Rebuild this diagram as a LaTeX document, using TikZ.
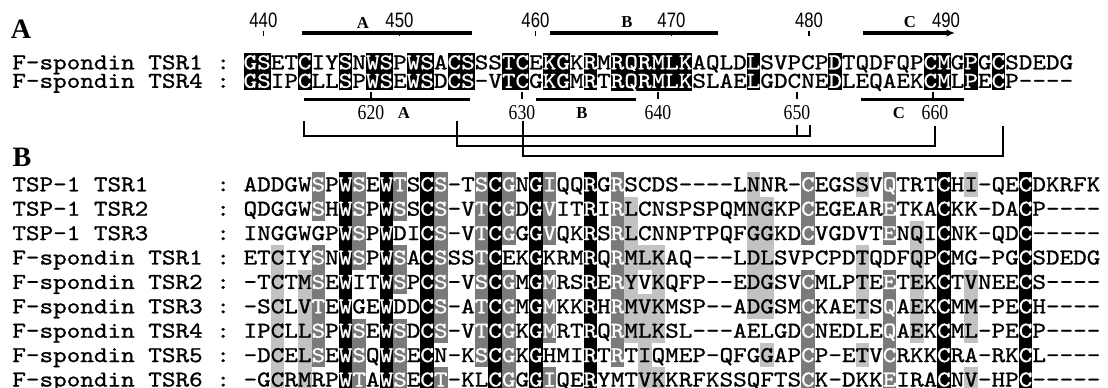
\documentclass[tikz,border=0pt]{standalone}
\usepackage{fontspec}
\setmainfont{Liberation Serif}
\setsansfont{Liberation Sans}
\newfontfamily\seqfont{lmmono10-regular.otf}[FakeStretch=1.143,FakeBold=1.0]
\usepackage{xcolor}
\usepackage{tikz}
\usetikzlibrary{arrows.meta}

\setlength{\fboxsep}{0pt}
\definecolor{darkcell}{gray}{0.48}
\definecolor{lightcell}{gray}{0.76}
\newcommand{\cellstrut}{}
\newcommand{\shK}[1]{\colorbox{black}{\cellstrut\textcolor{white}{#1}}}
\newcommand{\shD}[1]{\colorbox{darkcell}{\cellstrut\textcolor{white}{#1}}}
\newcommand{\shL}[1]{\colorbox{lightcell}{\cellstrut#1}}

\begin{document}
\begin{tikzpicture}[
    x=0.02cm,
    y=-0.02cm,
    >={Latex[length=0.17cm,width=0.15cm]},
    seqline/.style={
        anchor=base west,
        inner sep=0pt,
        font=\seqfont\fontsize{12.9}{14}\selectfont\frenchspacing
    },
    rowA/.style={
        seqline,
        execute at begin node={\def\cellstrut{\rule[-0.049cm]{0pt}{0.378cm}}}
    },
    rowB/.style={
        seqline,
        execute at begin node={\def\cellstrut{\rule[-0.108cm]{0pt}{0.492cm}}}
    },
    panel/.style={
        inner sep=0pt,
        font=\bfseries\fontsize{16}{16}\selectfont
    },
    posnum/.style={
        inner sep=0pt,
        font=\sffamily\fontsize{11.9}{12}\selectfont
    },
    lownum/.style={
        inner sep=0pt,
        font=\fontsize{12}{12}\selectfont
    },
    strand/.style={
        inner sep=0pt,
        font=\bfseries\fontsize{9.5}{10}\selectfont
    },
    bar/.style={line width=0.065cm},
    tickmark/.style={line width=0.6pt},
    ssbond/.style={line width=0.7pt}
]
\useasboundingbox (0,0) rectangle (1108,388);

% Panel A: pairwise alignment
\node[panel] (labA) at (21,29) {A};

\node[seqline] (nameA1) at (12,69.3) {F-spondin~TSR1};
\node[seqline] (colA1) at (216,69.3) {:};
\node[rowA] (fs1) at (243.2,69.3) {\shK{GS}ET\shK{C}IY\shK{S}N\shK{WS}P\shK{WS}A\shK{CS}SS\shK{TC}E\shK{KG}K\shK{R}M\shK{RQRMLK}AQLD\shK{L}SVPCP\shK{D}TQDFQP\shK{CM}G\shK{P}G\shK{C}SDEDG};
\node[seqline] (nameA4) at (12,87.8) {F-spondin~TSR4};
\node[seqline] (colA4) at (216,87.8) {:};
\node[rowA] (fs4) at (243.2,87.8) {\shK{GS}IP\shK{C}LL\shK{S}P\shK{WS}E\shK{WS}D\shK{CS}-V\shK{TC}G\shK{KG}M\shK{R}T\shK{RQRMLK}SLAE\shK{L}GDCNE\shK{D}LEQAEK\shK{CM}L\shK{P}E\shK{C}P----};

% Upper numbering and strands
\node[posnum] (p440) at (263.4,20) {\scalebox{0.8}[1]{440}};
\node[posnum] (p450) at (399.4,20) {\scalebox{0.8}[1]{450}};
\node[posnum] (p460) at (535.4,20) {\scalebox{0.8}[1]{460}};
\node[posnum] (p470) at (671.4,20) {\scalebox{0.8}[1]{470}};
\node[posnum] (p480) at (809,20) {\scalebox{0.8}[1]{480}};
\node[posnum] (p490) at (946,20) {\scalebox{0.8}[1]{490}};

\draw[tickmark] (263.4,31) -- (263.4,36);
\draw[tickmark] (399.4,31) -- (399.4,36);
\draw[tickmark] (535.4,31) -- (535.4,36);
\draw[tickmark] (671.4,31) -- (671.4,36);
\draw[tickmark] (809,31) -- (809,36);

\node[strand] (sA) at (363,23) {A};
\node[strand] (sB) at (627,22) {B};
\node[strand] (sC) at (910,22) {C};

\draw[bar] (302,33) -- (472,33);
\draw[bar] (550,33) -- (718,33);
\draw[bar, ->] (863,33) -- (955,33);

% Lower numbering and strands
\draw[bar] (304,99.5) -- (470,99.5);
\draw[bar] (536,99.5) -- (636,99.5);
\draw[bar] (861,99.5) -- (964,99.5);

\draw[tickmark] (371,92) -- (371,99.5);
\draw[tickmark] (522,92) -- (522,99.5);
\draw[tickmark] (658,92) -- (658,99.5);
\draw[tickmark] (797,92) -- (797,99.5);
\draw[tickmark] (933,92) -- (933,101);

\node[lownum] (p620) at (371,113) {\scalebox{0.84}[1]{620}};
\node[strand] (tA) at (404,113) {A};
\node[lownum] (p630) at (522,113) {\scalebox{0.84}[1]{630}};
\node[strand] (tB) at (582,113) {B};
\node[lownum] (p640) at (658,113) {\scalebox{0.84}[1]{640}};
\node[lownum] (p650) at (797,113) {\scalebox{0.84}[1]{650}};
\node[strand] (tC) at (899,113) {C};
\node[lownum] (p660) at (935,113) {\scalebox{0.84}[1]{660}};

% Disulfide connectivity
\coordinate (cysA) at (304,121);
\coordinate (cysB) at (457,121);
\coordinate (cysC) at (523,121);
\coordinate (cysD) at (797,125);
\coordinate (cysE) at (810,125);
\coordinate (cysF) at (935,126);
\coordinate (cysG) at (1003,126);

\draw[ssbond] (cysA) -- ++(0,15) -| (cysE);
\draw[ssbond] (cysD) -- ++(0,11);
\draw[ssbond] (cysB) -- ++(0,25) -| (cysF);
\draw[ssbond] (cysC) -- ++(0,35) -| (cysG);

% Panel B: multiple alignment
\node[panel] (labB) at (22,157) {B};

\node[seqline] (nameB1) at (12,191.3) {TSP-1~TSR1};
\node[seqline] (nameB2) at (12,215.7) {TSP-1~TSR2};
\node[seqline] (nameB3) at (12,240.1) {TSP-1~TSR3};
\node[seqline] (nameB4) at (12,264.5) {F-spondin~TSR1};
\node[seqline] (nameB5) at (12,288.9) {F-spondin~TSR2};
\node[seqline] (nameB6) at (12,313.3) {F-spondin~TSR3};
\node[seqline] (nameB7) at (12,337.7) {F-spondin~TSR4};
\node[seqline] (nameB8) at (12,362.1) {F-spondin~TSR5};
\node[seqline] (nameB9) at (12,386.5) {F-spondin~TSR6};

\node[seqline] (colB1) at (216,191.3) {:};
\node[seqline] (colB2) at (216,215.7) {:};
\node[seqline] (colB3) at (216,240.1) {:};
\node[seqline] (colB4) at (216,264.5) {:};
\node[seqline] (colB5) at (216,288.9) {:};
\node[seqline] (colB6) at (216,313.3) {:};
\node[seqline] (colB7) at (216,337.7) {:};
\node[seqline] (colB8) at (216,362.1) {:};
\node[seqline] (colB9) at (216,386.5) {:};

\node[rowB] (t1) at (243.2,191.3) {ADDGW\shD{S}P\shK{W}\shD{S}E\shK{W}\shD{T}S\shK{C}\shD{S}-T\shD{S}\shK{C}\shD{G}N\shK{G}\shD{I}QQ\shK{R}G\shD{R}SCDS----L\shL{N}NR-\shD{C}EGS\shL{S}V\shD{Q}TRT\shK{C}H\shL{I}-QE\shK{C}DKRFK};
\node[rowB] (t2) at (243.2,215.7) {QDGGW\shD{S}H\shK{W}\shD{S}P\shK{W}\shD{S}S\shK{C}\shD{S}-V\shD{T}\shK{C}\shD{G}D\shK{G}\shD{V}IT\shK{R}I\shD{R}\shL{L}CNSPSPQM\shL{NG}KP\shD{C}EGEAR\shD{E}TKA\shK{C}KK-DA\shK{C}P----};
\node[rowB] (t3) at (243.2,240.1) {INGGWGP\shK{W}\shD{S}P\shK{W}DI\shK{C}\shD{S}-V\shD{T}\shK{C}\shD{G}G\shK{G}\shD{V}QK\shK{R}S\shD{R}\shL{L}CNNPTPQF\shL{GG}KD\shD{C}VGDVT\shD{E}N\shL{Q}I\shK{C}NK-QD\shK{C}-----};
\node[rowB] (f1) at (243.2,264.5) {ET\shL{C}IY\shD{S}N\shK{W}\shD{S}P\shK{W}\shD{S}A\shK{C}\shD{S}SS\shD{T}\shK{C}EK\shK{G}KRM\shK{R}Q\shD{R}\shL{MLK}AQ---L\shL{DL}SVPCPD\shL{T}QDF\shL{Q}P\shK{C}MG-PG\shK{C}SDEDG};
\node[rowB] (f2) at (243.2,288.9) {-T\shL{C}T\shL{M}\shD{S}E\shK{W}IT\shK{W}\shD{S}P\shK{C}\shD{S}-V\shD{S}\shK{C}\shD{G}M\shK{G}\shD{M}RS\shK{R}E\shD{R}\shL{Y}V\shL{K}QFP--E\shL{DG}SV\shD{C}MLP\shL{T}E\shD{E}T\shL{E}K\shK{C}T\shL{V}NEE\shK{C}S----};
\node[rowB] (f3) at (243.2,313.3) {-S\shL{C}L\shL{V}\shD{T}E\shK{W}GE\shK{W}DD\shK{C}\shD{S}-A\shD{T}\shK{C}\shD{G}M\shK{G}\shD{M}KK\shK{R}H\shD{R}\shL{MVK}MSP--A\shL{DG}SM\shD{C}KAE\shL{T}S\shD{Q}A\shL{E}K\shK{C}M\shL{M}-PE\shK{C}H----};
\node[rowB] (f4) at (243.2,337.7) {IP\shL{C}L\shL{L}\shD{S}P\shK{W}\shD{S}E\shK{W}\shD{S}D\shK{C}\shD{S}-V\shD{T}\shK{C}\shD{G}K\shK{G}\shD{M}RT\shK{R}Q\shD{R}\shL{MLK}SL---AELGD\shD{C}NEDLE\shD{Q}A\shL{E}K\shK{C}M\shL{L}-PE\shK{C}P----};
\node[rowB] (f5) at (243.2,362.1) {-D\shL{C}E\shL{L}\shD{S}E\shK{W}\shD{S}Q\shK{W}\shD{S}E\shK{C}N-K\shD{S}\shK{C}\shD{G}K\shK{G}HMI\shK{R}T\shD{R}T\shL{I}QMEP-QFG\shL{G}AP\shD{C}P-E\shL{T}V\shD{C}RKK\shK{C}RA-RK\shK{C}L----};
\node[rowB] (f6) at (243.2,386.5) {-G\shL{C}R\shL{M}RP\shK{W}\shD{T}A\shK{W}\shD{S}E\shK{C}\shD{T}-KL\shK{C}\shD{G}G\shK{G}\shD{I}QE\shK{R}YMT\shL{VK}KRFKSSQFTS\shD{C}K-DKK\shD{E}IRA\shK{C}N\shL{V}-HP\shK{C}-----};

\end{tikzpicture}
\end{document}
